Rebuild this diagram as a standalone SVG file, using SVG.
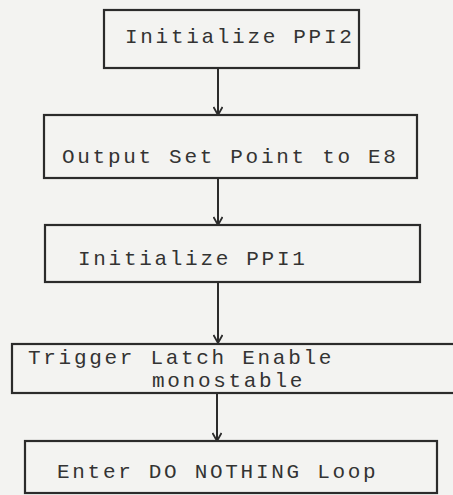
<svg xmlns="http://www.w3.org/2000/svg" width="453" height="495" viewBox="0 0 453 495">
<style>
.box{fill:none;stroke:#2b2b2b;stroke-width:2.2}
.t{font-family:"Liberation Mono","DejaVu Sans Mono",monospace;font-size:21px;letter-spacing:2.7px;fill:#333}
.c{stroke:#2b2b2b;stroke-width:2;fill:none}
</style>
<defs>
<marker id="ah" viewBox="0 0 10 10" refX="9" refY="5" markerWidth="10" markerHeight="10" markerUnits="userSpaceOnUse" orient="auto">
<path d="M1,0.5 L9,5 L1,9.5" fill="none" stroke="#2b2b2b" stroke-width="1.8"/>
</marker>
</defs>
<rect width="453" height="495" fill="#f3f3f1"/>
<g id="connectors">
<line class="c" x1="218" y1="68" x2="218" y2="115" marker-end="url(#ah)"/>
<line class="c" x1="218" y1="178" x2="218" y2="225" marker-end="url(#ah)"/>
<line class="c" x1="218" y1="282" x2="218" y2="343" marker-end="url(#ah)"/>
<line class="c" x1="217" y1="393" x2="217" y2="441" marker-end="url(#ah)"/>
</g>
<g id="n1">
<rect class="box" x="104" y="10" width="255" height="58"/>
<text class="t" x="125" y="43">Initialize PPI2</text>
</g>
<g id="n2">
<rect class="box" x="44" y="115" width="373" height="63"/>
<text class="t" x="62" y="163">Output Set Point to E8</text>
</g>
<g id="n3">
<rect class="box" x="45" y="225" width="375" height="57"/>
<text class="t" x="78" y="265">Initialize PPI1</text>
</g>
<g id="n4">
<rect class="box" x="12" y="344" width="450" height="49"/>
<text class="t" x="28" y="364">Trigger Latch Enable</text>
<text class="t" x="152" y="387">monostable</text>
</g>
<g id="n5">
<rect class="box" x="25" y="441" width="412" height="52"/>
<text class="t" x="57" y="478">Enter DO NOTHING Loop</text>
</g>
</svg>
